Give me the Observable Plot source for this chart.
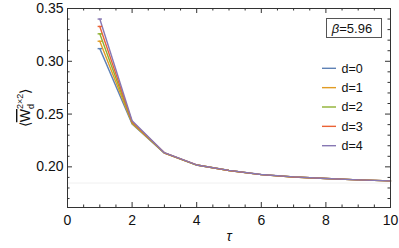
<!DOCTYPE html>
<html><head><meta charset="utf-8">
<script src="https://cdn.jsdelivr.net/npm/d3@7"></script>
<script src="https://cdn.jsdelivr.net/npm/@observablehq/plot@0.6"></script>
<style>
body{margin:0;background:#fff}
svg{font-family:"Liberation Sans",Arial,sans-serif}
</style>
</head><body><div id="chart"></div>
<script>
const tau = [1, 2, 3, 4, 5, 6, 7, 8, 9, 10];
const seriesNames = ["d=0", "d=1", "d=2", "d=3", "d=4"];
const d0 = [0.312, 0.2405, 0.2130, 0.2017, 0.1966, 0.1926, 0.1904, 0.1889, 0.1877, 0.1867];
const d1 = [0.319, 0.2412, 0.2131, 0.2017, 0.1966, 0.1926, 0.1904, 0.1889, 0.1877, 0.1867];
const d2 = [0.326, 0.2420, 0.2132, 0.2017, 0.1966, 0.1926, 0.1904, 0.1889, 0.1877, 0.1867];
const d3v = [0.333, 0.2428, 0.2133, 0.2018, 0.1966, 0.1926, 0.1904, 0.1889, 0.1877, 0.1867];
const d4 = [0.340, 0.2436, 0.2134, 0.2018, 0.1967, 0.1927, 0.1905, 0.1889, 0.1877, 0.1867];
const seriesValues = [d0, d1, d2, d3v, d4];
const colors = ["#5E81B5", "#E19C24", "#8FB032", "#EB6235", "#8778B3"];
const xMajor = [0, 2, 4, 6, 8, 10];
const xMinor = [0.5, 1, 1.5, 2.5, 3, 3.5, 4.5, 5, 5.5, 6.5, 7, 7.5, 8.5, 9, 9.5];
const yMajor = [0.20, 0.25, 0.30, 0.35];
const yMinor = [0.17, 0.18, 0.19, 0.21, 0.22, 0.23, 0.24, 0.26, 0.27, 0.28, 0.29, 0.31, 0.32, 0.33, 0.34];
const asymptote = [0.1847];
const betaLabel = "β=5.96";

const data = [];
seriesNames.forEach((s, i) => tau.forEach((t, j) => data.push({series: s, tau: t, value: seriesValues[i][j]})));

const W = 399, H = 248, mL = 67, mR = 9, mT = 8, mB = 41;
const pw = W - mL - mR, ph = H - mT - mB;
const frameColor = "#333";
const capSymbol = {draw(ctx, size) { const r = 2.2; ctx.moveTo(-r, 0); ctx.lineTo(r, 0); }};

const plot = Plot.plot({
  width: W, height: H,
  marginLeft: mL, marginRight: mR, marginTop: mT, marginBottom: mB,
  x: {domain: [0, 10]},
  y: {domain: [0.1615, 0.35]},
  color: {domain: seriesNames, range: colors},
  style: {fontFamily: '"Liberation Sans", Arial, sans-serif', background: "#fff"},
  marks: [
    Plot.ruleY(asymptote, {stroke: "#f0f0f0", strokeWidth: 1}),
    Plot.line(data, {x: "tau", y: "value", z: "series", stroke: "series", strokeWidth: 1.4}),
    Plot.dot(data.filter(d => d.tau === tau[0]), {x: "tau", y: "value", stroke: "series", symbol: capSymbol, r: 3, strokeWidth: 1.4}),
    Plot.frame({stroke: frameColor, strokeWidth: 1}),
    Plot.tickY(yMajor, {y: d => d, insetRight: pw - 5, stroke: frameColor}),
    Plot.tickY(yMajor, {y: d => d, insetLeft: pw - 5, stroke: frameColor}),
    Plot.tickY(yMinor, {y: d => d, insetRight: pw - 2.5, stroke: frameColor}),
    Plot.tickY(yMinor, {y: d => d, insetLeft: pw - 2.5, stroke: frameColor}),
    Plot.tickX(xMajor, {x: d => d, insetTop: ph - 5, stroke: frameColor}),
    Plot.tickX(xMajor, {x: d => d, insetBottom: ph - 5, stroke: frameColor}),
    Plot.tickX(xMinor, {x: d => d, insetTop: ph - 2.5, stroke: frameColor}),
    Plot.tickX(xMinor, {x: d => d, insetBottom: ph - 2.5, stroke: frameColor}),
    Plot.axisX({ticks: xMajor, tickSize: 0, tickPadding: 8, fontSize: 14, label: null, tickFormat: d3.format("d"), color: "#111"}),
    Plot.axisY({ticks: yMajor, tickSize: 0, tickPadding: 4, fontSize: 14, label: null, tickFormat: d3.format(".2f"), color: "#111"}),
    Plot.text(["τ"], {frameAnchor: "bottom", dy: 33, fontSize: 14, fontStyle: "italic", fill: "#111"})
  ]
});
document.getElementById("chart").appendChild(plot);

const svg = d3.select(plot);
// legend
const lg = svg.append("g").attr("font-size", 12.5).attr("fill", "#111").attr("text-anchor", "start");
seriesNames.forEach((s, i) => {
  const y = 68.3 + i * 19.35;
  lg.append("line").attr("x1", 322).attr("x2", 336).attr("y1", y).attr("y2", y)
    .attr("stroke", colors[i]).attr("stroke-width", 1.4);
  lg.append("text").attr("x", 341.5).attr("y", y).attr("dy", "0.35em").attr("text-anchor", "start").text(s);
});
// beta box
const bx = svg.append("g");
bx.append("rect").attr("x", 326.5).attr("y", 18.5).attr("width", 55).attr("height", 19)
  .attr("fill", "#fff").attr("stroke", "#555").attr("stroke-width", 1);
const bt = bx.append("text").attr("x", 352).attr("y", 28.2).attr("dy", "0.35em")
  .attr("text-anchor", "middle").attr("font-size", 13).attr("fill", "#111");
bt.append("tspan").attr("font-style", "italic").text(betaLabel.slice(0, 1));
bt.append("tspan").text(betaLabel.slice(1));
// y label
const yl = svg.append("text").attr("transform", "translate(30,108) rotate(-90)")
  .attr("text-anchor", "middle").attr("font-size", 14).attr("fill", "#111");
yl.append("tspan").text("⟨");
yl.append("tspan").attr("text-decoration", "overline").text("W");
yl.append("tspan").attr("font-size", 9).attr("dy", 4).text("d");
yl.append("tspan").attr("font-size", 9).attr("dx", -5).attr("dy", -11).text("2×2");
yl.append("tspan").attr("dy", 7).text("⟩");
</script></body></html>
